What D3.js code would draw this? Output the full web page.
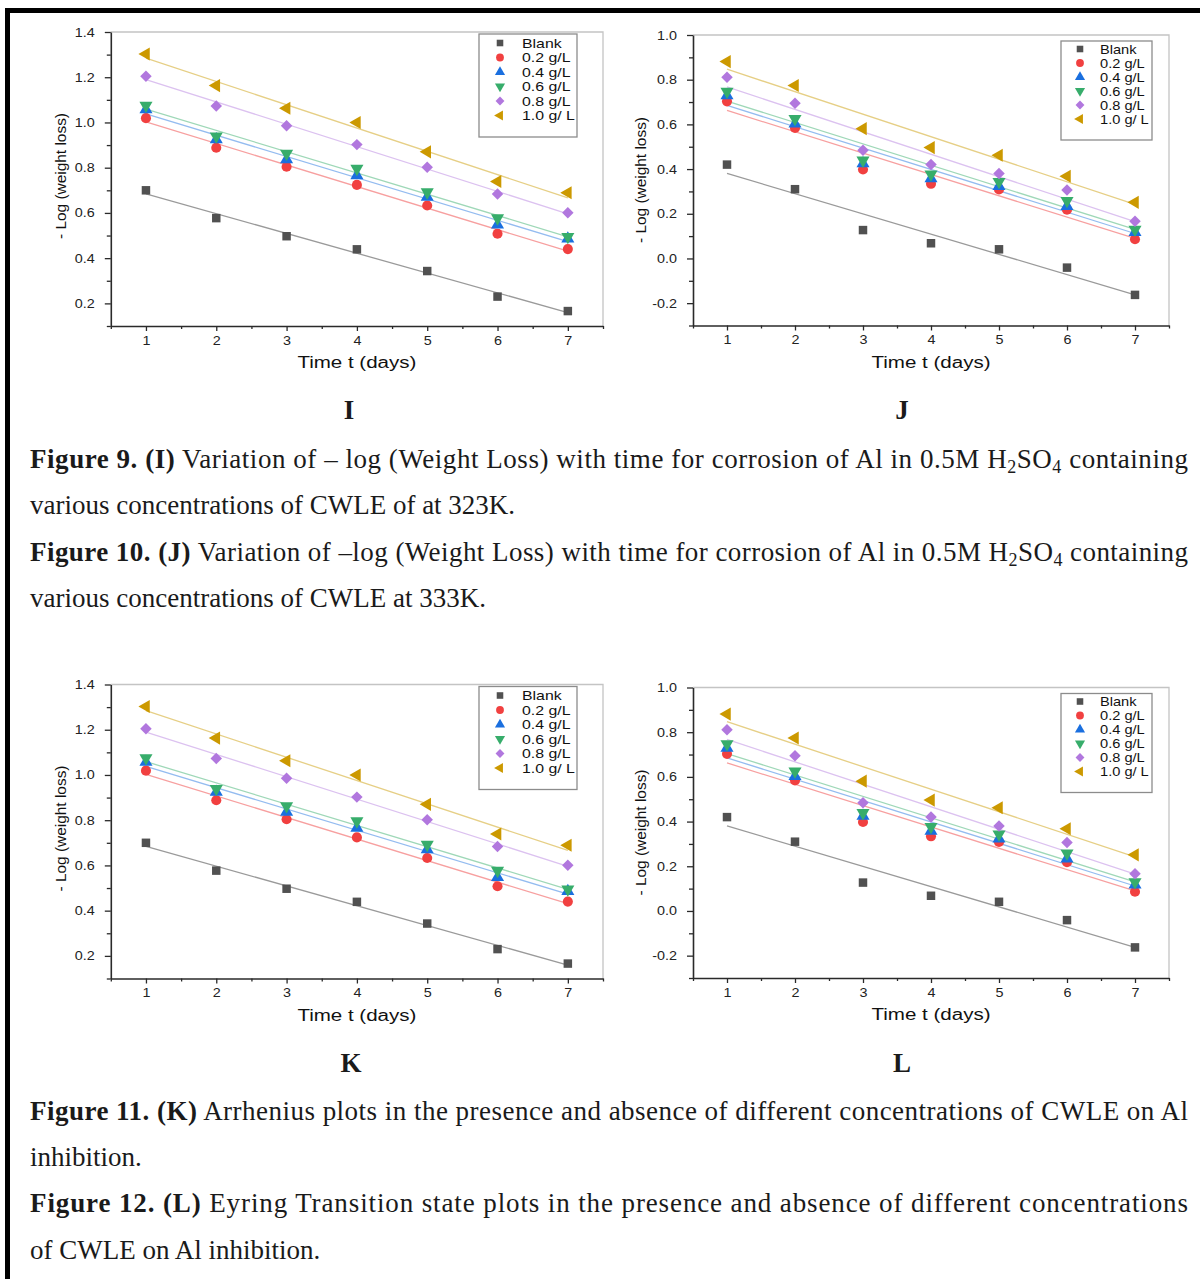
<!DOCTYPE html>
<html>
<head>
<meta charset="utf-8" />
<title>Weight loss vs time</title>
<script src="https://d3js.org/d3.v7.min.js"></script>
<style>
  body { margin: 0; background: #fff; }
  .tick text { font-family: "Liberation Sans", Arial, sans-serif; font-size: 12.5px; fill: #222; }
  .axtitle { font-family: "Liberation Sans", Arial, sans-serif; fill: #111; }
  .leg { font-family: "Liberation Sans", Arial, sans-serif; font-size: 12.5px; fill: #111; }
  .cap { font-family: "Liberation Serif", "Times New Roman", serif; font-size: 27px; fill: #1a1a1a; white-space: pre; }
</style>
</head>
<body>
<script>
// ---- data ----
var days = [1, 2, 3, 4, 5, 6, 7];
var seriesNames = ["Blank", "0.2 g/L", "0.4 g/L", "0.6 g/L", "0.8 g/L", "1.0 g/ L"];

// 323 K (panel I, repeated as panel K)
var blankI = [0.700, 0.577, 0.497, 0.439, 0.343, 0.230, 0.166];
var c02I   = [1.019, 0.888, 0.804, 0.724, 0.633, 0.508, 0.440];
var c04I   = [1.057, 0.925, 0.836, 0.766, 0.670, 0.548, 0.486];
var c06I   = [1.075, 0.939, 0.863, 0.796, 0.692, 0.577, 0.495];
var c08I   = [1.204, 1.073, 0.985, 0.902, 0.802, 0.684, 0.601];
var c10I   = [1.303, 1.163, 1.063, 1.000, 0.870, 0.739, 0.689];

// 333 K (panel J, repeated as panel L)
var blankJ = [0.420, 0.310, 0.127, 0.068, 0.041, -0.041, -0.163];
var c02J   = [0.703, 0.584, 0.398, 0.334, 0.309, 0.218, 0.086];
var c04J   = [0.729, 0.603, 0.425, 0.358, 0.323, 0.234, 0.117];
var c06J   = [0.747, 0.625, 0.439, 0.377, 0.343, 0.258, 0.130];
var c08J   = [0.811, 0.695, 0.484, 0.420, 0.380, 0.306, 0.167];
var c10J   = [0.881, 0.774, 0.581, 0.496, 0.462, 0.368, 0.251];

var yTicksI = [0.2, 0.4, 0.6, 0.8, 1.0, 1.2, 1.4];
var yTicksJ = [-0.2, 0.0, 0.2, 0.4, 0.6, 0.8, 1.0];

// ---- styles ----
var symColors  = ["#515151", "#F14040", "#1A6FDF", "#37AD6B", "#B177DE", "#CC9900"];
var lineColors = ["#9a9a9a", "#f7a0a0", "#94bcf0", "#9fd8b8", "#dcc2f0", "#e6cf86"];
var shapes = [
  { type: d3.symbolSquare,   rot: 0,   size: 72 },
  { type: d3.symbolCircle,   rot: 0,   size: 80 },
  { type: d3.symbolTriangle, rot: 0,   size: 74 },
  { type: d3.symbolTriangle, rot: 180, size: 74 },
  { type: d3.symbolSquare,   rot: 45,  size: 66 },
  { type: d3.symbolTriangle, rot: -90, size: 74 }
];

var svg = d3.select("body").append("svg")
  .attr("width", 1200).attr("height", 1279);

// page frame (black rule top and left)
svg.append("rect").attr("x", 5).attr("y", 8).attr("width", 1195).attr("height", 5).attr("fill", "#000");
svg.append("rect").attr("x", 5).attr("y", 8).attr("width", 5).attr("height", 1271).attr("fill", "#000");

function fit(vals) {
  var mx = d3.mean(days), my = d3.mean(vals);
  var sxy = d3.sum(days, function(d, i) { return (d - mx) * (vals[i] - my); });
  var sxx = d3.sum(days, function(d) { return (d - mx) * (d - mx); });
  var b = sxy / sxx;
  return function(t) { return my + b * (t - mx); };
}

function drawPanel(p) {
  var x = d3.scaleLinear().domain([0.5, 7.5]).range([p.left, p.right]);
  var y = d3.scaleLinear().domain(p.yDomain).range([p.bottom, p.top]);
  var g = svg.append("g");

  // top/right frame
  g.append("path")
    .attr("d", "M" + p.left + "," + p.top + "H" + p.right + "V" + p.bottom)
    .attr("fill", "none").attr("stroke", "#c4c4c4").attr("stroke-width", 1.3);

  // minor ticks
  var xMinor = d3.range(0.5, 7.6, 1);
  var yMinor = d3.range(p.yDomain[0], p.yDomain[1] + 0.01, 0.2);
  g.append("g").attr("transform", "translate(0," + p.bottom + ")")
    .call(d3.axisBottom(x).tickValues(xMinor).tickSize(3).tickFormat("").tickSizeOuter(0))
    .call(function(s) { s.select(".domain").remove(); });
  g.append("g").attr("transform", "translate(" + p.left + ",0)")
    .call(d3.axisLeft(y).tickValues(yMinor).tickSize(4).tickFormat("").tickSizeOuter(0))
    .call(function(s) { s.select(".domain").remove(); });

  // major axes
  var xa = g.append("g").attr("transform", "translate(0," + p.bottom + ")")
    .call(d3.axisBottom(x).tickValues(days).tickSize(5).tickPadding(5).tickSizeOuter(0).tickFormat(d3.format("d")));
  var ya = g.append("g").attr("transform", "translate(" + p.left + ",0)")
    .call(d3.axisLeft(y).tickValues(p.yTicks).tickSize(6).tickPadding(11).tickSizeOuter(0)
      .tickFormat(function(d) { return d.toFixed(1); }));
  [xa, ya].forEach(function(a) {
    a.select(".domain").attr("stroke", "#2a2a2a").attr("stroke-width", 1.6);
  });
  g.selectAll(".tick line").attr("stroke", "#2a2a2a").attr("stroke-width", 1.3);
  xa.selectAll(".tick text").attr("transform", "scale(1.15,1)");
  ya.selectAll(".tick text").attr("transform", "scale(1.15,1)").attr("x", -16 / 1.15);

  // axis titles
  g.append("text").attr("class", "axtitle")
    .attr("x", (p.left + p.right) / 2).attr("y", p.bottom + 42)
    .attr("text-anchor", "middle").attr("font-size", 16)
    .attr("textLength", 119).attr("lengthAdjust", "spacingAndGlyphs")
    .text("Time t (days)");
  g.append("text").attr("class", "axtitle")
    .attr("transform", "translate(" + p.ylabX + "," + p.ylabY + ") rotate(-90)")
    .attr("text-anchor", "middle").attr("dominant-baseline", "central").attr("font-size", 15)
    .attr("textLength", 126).attr("lengthAdjust", "spacingAndGlyphs")
    .text("- Log (weight loss)");

  // fit lines then symbols, series in order
  p.series.forEach(function(vals, k) {
    var f = fit(vals);
    g.append("line")
      .attr("x1", x(1)).attr("y1", y(f(1)))
      .attr("x2", x(7)).attr("y2", y(f(7)))
      .attr("stroke", lineColors[k]).attr("stroke-width", 1.3);
  });
  p.series.forEach(function(vals, k) {
    var sh = shapes[k];
    var sym = d3.symbol().type(sh.type).size(sh.size);
    g.selectAll(null).data(vals).enter().append("path")
      .attr("d", sym)
      .attr("transform", function(v, i) {
        return "translate(" + x(days[i]) + "," + y(v) + ") rotate(" + sh.rot + ")";
      })
      .attr("fill", symColors[k]);
  });

  // legend
  var L = p.legend;
  g.append("rect").attr("x", L.x).attr("y", L.y).attr("width", L.w).attr("height", L.h)
    .attr("fill", "#fff").attr("stroke", "#8c8c8c").attr("stroke-width", 1.3);
  seriesNames.forEach(function(name, k) {
    var sh = shapes[k];
    var ry = L.y + L.row0 + k * L.step;
    g.append("path")
      .attr("d", d3.symbol().type(sh.type).size(sh.size * 0.6))
      .attr("transform", "translate(" + L.sx + "," + ry + ") rotate(" + sh.rot + ")")
      .attr("fill", symColors[k]);
    g.append("text").attr("class", "leg")
      .attr("transform", "translate(" + L.tx + "," + (ry + 4.5) + ") scale(" + L.stretch + ",1)")
      .text(name);
  });

  // panel letter
  svg.append("text").attr("class", "cap")
    .attr("x", p.letterX).attr("y", p.letterY)
    .attr("text-anchor", "middle").attr("font-weight", "bold").attr("font-size", 26)
    .text(p.letter);
}

var legI = { x: 479, y: 34, w: 98, h: 103, row0: 9, step: 14.5, sx: 500, tx: 522, stretch: 1.27 };
var legJ = { x: 1061, y: 41, w: 91, h: 99, row0: 8, step: 14, sx: 1080, tx: 1100, stretch: 1.17 };
var dy = 652.5;

drawPanel({ series: [blankI, c02I, c04I, c06I, c08I, c10I], yDomain: [0.1, 1.4], yTicks: yTicksI,
  left: 110.8, right: 603, top: 32, bottom: 326, ylabX: 60, ylabY: 176,
  legend: legI, letter: "I", letterX: 349, letterY: 419 });
drawPanel({ series: [blankJ, c02J, c04J, c06J, c08J, c10J], yDomain: [-0.3, 1.0], yTicks: yTicksJ,
  left: 693, right: 1169, top: 35, bottom: 325.5, ylabX: 640, ylabY: 180,
  legend: legJ, letter: "J", letterX: 902, letterY: 419 });
drawPanel({ series: [blankI, c02I, c04I, c06I, c08I, c10I], yDomain: [0.1, 1.4], yTicks: yTicksI,
  left: 110.8, right: 603, top: 32 + dy, bottom: 326 + dy, ylabX: 60, ylabY: 176 + dy,
  legend: Object.assign({}, legI, { y: legI.y + dy }), letter: "K", letterX: 351, letterY: 419 + dy });
drawPanel({ series: [blankJ, c02J, c04J, c06J, c08J, c10J], yDomain: [-0.3, 1.0], yTicks: yTicksJ,
  left: 693, right: 1169, top: 35 + dy, bottom: 325.5 + dy, ylabX: 640, ylabY: 180 + dy,
  legend: Object.assign({}, legJ, { y: legJ.y + dy }), letter: "L", letterX: 902, letterY: 419 + dy });

// ---- captions ----
function caption(yy, parts, justify) {
  var t = svg.append("text").attr("class", "cap").attr("x", 30).attr("y", yy);
  if (justify) t.attr("textLength", 1158).attr("lengthAdjust", "spacing");
  parts.forEach(function(pt) {
    var s = t.append("tspan").text(pt.t);
    if (pt.b) s.attr("font-weight", "bold");
    if (pt.sub) s.attr("font-size", 18).attr("dy", 5);
    if (pt.up) s.attr("dy", -5);
  });
}
var h2so4 = function(tail) {
  return [{ t: "H" }, { t: "2", sub: true }, { t: "SO", up: true }, { t: "4", sub: true }, { t: tail, up: true }];
};
caption(468, [{ t: "Figure 9. (I)", b: true }, { t: " Variation of \u2013 log (Weight Loss) with time for corrosion of Al in 0.5M " }]
  .concat(h2so4(" containing")), true);
caption(514, [{ t: "various concentrations of CWLE of at 323K." }], false);
caption(561, [{ t: "Figure 10. (J)", b: true }, { t: " Variation of \u2013log (Weight Loss) with time for corrosion of Al in 0.5M " }]
  .concat(h2so4(" containing")), true);
caption(607, [{ t: "various concentrations of CWLE at 333K." }], false);
caption(1120, [{ t: "Figure 11. (K)", b: true }, { t: " Arrhenius plots in the presence and absence of different concentrations of CWLE on Al" }], true);
caption(1166, [{ t: "inhibition." }], false);
caption(1212, [{ t: "Figure 12. (L)", b: true }, { t: " Eyring Transition state plots in the presence and absence of different concentrations" }], true);
caption(1259, [{ t: "of CWLE on Al inhibition." }], false);
</script>
</body>
</html>
